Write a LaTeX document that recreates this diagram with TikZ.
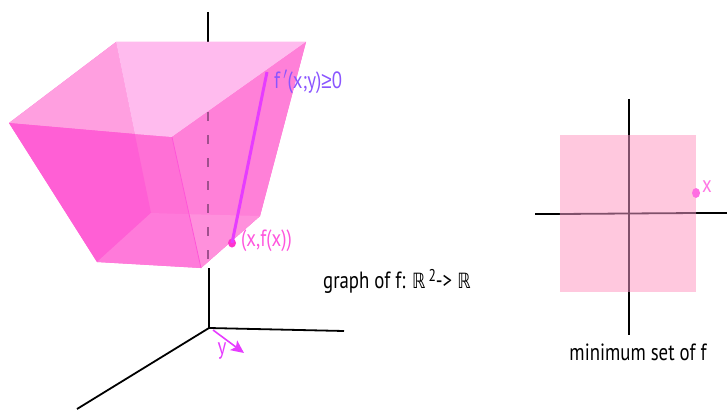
\documentclass[tikz,border=0pt]{standalone}
\usepackage{fontspec}
\setmainfont{PT Sans}
\newfontfamily\symfont{DejaVu Sans}
\newfontfamily\relfont{Liberation Sans}
\usetikzlibrary{arrows.meta,shapes.geometric}
\definecolor{backface}{HTML}{FFBBEE}
\definecolor{leftface}{HTML}{FF9FE0}
\definecolor{frontdark}{HTML}{FF5FD5}
\definecolor{frontmid}{HTML}{FF70D6}
\definecolor{bottomface}{HTML}{FF7ADA}
\definecolor{rightface}{HTML}{FF80D8}
\definecolor{bottomlight}{HTML}{FF90DC}
\definecolor{edgepink}{HTML}{FF55D8}
\definecolor{hotpink}{HTML}{FF33CC}
\definecolor{linepink}{HTML}{E63CFF}
\definecolor{violet}{HTML}{8A55FF}
\definecolor{labelpink}{HTML}{FF55DD}
\definecolor{flatpink}{HTML}{FFC8DE}
\definecolor{throughdark}{HTML}{80506A}
\definecolor{dashpurple}{HTML}{A0508E}
\tikzset{
  axisline/.style={draw=black,line width=1.8pt},
  through/.style={draw=throughdark,line width=1.8pt},
  lbl/.style={inner sep=0pt,xscale=.8,font=\fontsize{23.5}{23.5}\selectfont},
  dotmark/.style={fill=#1,draw=none,ellipse,inner sep=0pt},
}
\begin{document}
\begin{tikzpicture}[x=1pt,y=-1pt]
\useasboundingbox (0,0) rectangle (727,409);
% cube corners
\coordinate (A) at (116,42);
\coordinate (B) at (306,42);
\coordinate (C) at (172,137);
\coordinate (D) at (9,123);
\coordinate (E) at (97,262);
\coordinate (F) at (201,268);
\coordinate (G) at (260,216);
\coordinate (H) at (151,213);
\coordinate (J) at (134.8,134);  % back edge A-H meets D-C
\coordinate (K) at (189,214.2);  % front edge C-F meets bottom back edge
% axes of the left plot
\coordinate (O) at (209,328);
\coordinate (Ztop) at (208,12);
\coordinate (Zhide) at (208,107);
\coordinate (Zlow) at (209,268);
\coordinate (Xend) at (344,331);
\coordinate (Yend) at (77,409);
\draw[axisline] (Ztop) -- (Zhide);
\draw[axisline] (Zlow) -- (O) -- (Xend);
\draw[axisline] (O) -- (Yend);
% faces
\fill[frontmid] (A) -- (B) -- (G) -- (F) -- (E) -- (D) -- cycle;
\fill[leftface] (A) -- (J) -- (D) -- cycle;
\fill[backface] (A) -- (B) -- (C) -- (J) -- cycle;
\fill[rightface] (C) -- (B) -- (G) -- (F) -- cycle;
\fill[frontdark] (D) -- (J) -- (H) -- (E) -- cycle;
\fill[bottomface] (H) -- (K) -- (F) -- (E) -- cycle;
\fill[bottomlight] (K) -- (G) -- (F) -- cycle;
\draw[edgepink,line width=.8pt] (C) -- (F);
% hidden part of the vertical axis
\coordinate (Zd1) at (208,112);
\coordinate (Zd2) at (208,262);
\draw[dashpurple,line width=1.3pt,dash pattern=on 9pt off 14pt] (Zd1) -- (Zd2);
% directional derivative
\node[dotmark=hotpink,minimum width=8pt,minimum height=9pt] (P) at (232,243) {};
\coordinate (Ptop) at (267,72);
\draw[linepink,line width=3pt] (P.center) -- (Ptop);
\node[lbl,text=violet,anchor=west] (fp) at (274,82) {f$\,'$(x;y){\relfont ≥}0};
\node[lbl,text=labelpink,anchor=west] (px) at (241,241) {(x,f(x))};
% y arrow
\coordinate (Ya) at (213,330);
\coordinate (Yb) at (244,353);
\draw[linepink,line width=1.6pt,-{Stealth[length=13pt,width=12pt,inset=3pt]}] (Ya) -- (Yb);
\node[lbl,text=linepink,anchor=center] (ylab) at (222,351) {y};
% caption of the graph
\node[lbl,text=black,anchor=west] (g) at (323,281) {graph of f: {\symfont\fontsize{21}{21}\selectfont ℝ}\,\raisebox{7pt}{\fontsize{17}{17}\selectfont 2}-> {\symfont\fontsize{21}{21}\selectfont ℝ}};
% right plot
\node[fill=flatpink,draw=none,minimum width=136pt,minimum height=157pt,inner sep=0pt] (R) at (628,213.5) {};
\coordinate (Vt) at (629,99);
\coordinate (Vb) at (629,335);
\coordinate (Hl) at (535,214);
\coordinate (Hr) at (727,213);
\draw[axisline] (Vt) -- (R.north -| Vt);
\draw[axisline] (R.south -| Vb) -- (Vb);
\draw[axisline] (Hl) -- (R.west |- Hl);
\draw[axisline] (R.east |- Hr) -- (Hr);
\draw[through] (R.north -| Vt) -- (R.south -| Vb);
\draw[through] (R.west |- Hl) -- (R.east |- Hr);
\node[dotmark=labelpink!85!white,minimum width=8pt,minimum height=10pt] (Q) at (696,193) {};
\node[lbl,text=labelpink!80!white,anchor=center] (qx) at (707,187) {x};
\node[lbl,text=black,anchor=center] (m) at (638,352) {minimum set of f};
\end{tikzpicture}
\end{document}
